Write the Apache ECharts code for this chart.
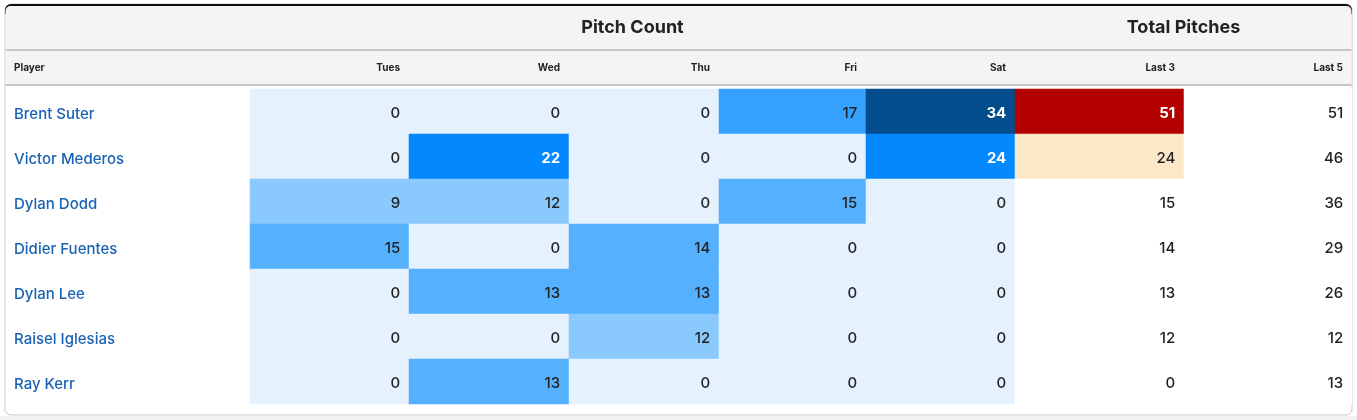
<!DOCTYPE html>
<html>
<head>
<meta charset="utf-8">
<script src="https://cdn.jsdelivr.net/npm/echarts@6/dist/echarts.min.js"></script>
<style>
  html, body { margin: 0; padding: 0; background: #fff; }
  #container { width: 1357px; height: 420px; }
</style>
</head>
<body>
<div id="container"></div>
<script>
var players = ['Brent Suter', 'Victor Mederos', 'Dylan Dodd', 'Didier Fuentes', 'Dylan Lee', 'Raisel Iglesias', 'Ray Kerr'];
var days = ['Tues', 'Wed', 'Thu', 'Fri', 'Sat'];
var totals = ['Last 3', 'Last 5'];

// pitches per player, one row per player, Tues..Sat
var pitchCounts = [
  [0, 0, 0, 17, 34],
  [0, 22, 0, 0, 24],
  [9, 12, 0, 15, 0],
  [15, 0, 14, 0, 0],
  [0, 13, 13, 0, 0],
  [0, 0, 12, 0, 0],
  [0, 13, 0, 0, 0]
];
var last3 = [51, 24, 15, 14, 13, 12, 0];
var last5 = [51, 46, 36, 29, 26, 12, 13];

// layout: column edges in px
var colEdges = [250, 409, 569, 719, 866, 1015, 1184, 1352];
var rowTop = 89, rowH = 45;
var font = 'Inter, "Noto Sans", sans-serif';

var dom = document.getElementById('container');
var myChart = echarts.init(dom);

var columnNames = days.concat(totals);
var grids = [], xAxes = [], yAxes = [], series = [];

columnNames.forEach(function (name, c) {
  grids.push({
    left: colEdges[c],
    width: colEdges[c + 1] - colEdges[c],
    top: rowTop,
    height: rowH * players.length
  });
  xAxes.push({
    type: 'category', gridIndex: c, data: [name], show: false
  });
  yAxes.push({
    type: 'category', gridIndex: c, data: players, inverse: true,
    axisLine: { show: false }, axisTick: { show: false }, splitLine: { show: false },
    axisLabel: c === 0 ? {
      show: true, align: 'left', margin: colEdges[0] - 14,
      formatter: function (v) { return '{n|' + v + '}'; },
      rich: {
        n: {
          color: '#1a62b5', fontSize: 15, fontWeight: 500, fontFamily: font,
          padding: [5, 0, 0, 0]
        }
      }
    } : { show: false }
  });

  var vals;
  if (c < days.length) {
    vals = pitchCounts.map(function (r) { return r[c]; });
  } else if (name === 'Last 3') {
    vals = last3;
  } else {
    vals = last5;
  }
  var dark = c < days.length ? 21 : (name === 'Last 3' ? 41 : 9999);
  var s = {
    type: 'heatmap',
    xAxisIndex: c,
    yAxisIndex: c,
    data: vals.map(function (v, i) {
      return {
        value: [0, i, v],
        label: v >= dark ? { color: '#fff', fontWeight: 'bold' } : {}
      };
    }),
    label: {
      show: true,
      position: 'insideRight',
      distance: 9,
      offset: [0, 2],
      color: '#222',
      fontSize: 15,
      fontWeight: 500,
      fontFamily: font,
      formatter: function (p) { return p.value[2]; }
    },
    emphasis: { disabled: true }
  };
  if (name === 'Last 5') s.itemStyle = { color: '#ffffff' };
  series.push(s);
});

// panel, header bands and header texts
var graphics = [
  { type: 'rect', shape: { x: 5, y: 4, width: 1347, height: 411, r: 6 },
    style: { fill: '#fff', stroke: '#c9c9c9', lineWidth: 1 }, z: -10 },
  { type: 'rect', shape: { x: 5, y: 4, width: 1347, height: 10, r: [6, 6, 0, 0] },
    style: { fill: '#111' }, z: -9 },
  { type: 'rect', shape: { x: 5.5, y: 6, width: 1346, height: 79, r: [5, 5, 0, 0] },
    style: { fill: '#f4f4f4' }, z: -8 },
  { type: 'rect', shape: { x: 5.5, y: 49, width: 1346, height: 2 }, style: { fill: '#c6c6c6' }, z: -7 },
  { type: 'rect', shape: { x: 5.5, y: 84, width: 1346, height: 2 }, style: { fill: '#c6c6c6' }, z: -7 },
  { type: 'rect', shape: { x: 0, y: 416, width: 1357, height: 4 }, style: { fill: '#f2f2f2' }, z: -11 },
  { type: 'text', x: (colEdges[0] + colEdges[5]) / 2, y: 28,
    style: { text: 'Pitch Count', font: 'bold 18px ' + font, fill: '#222', align: 'center', verticalAlign: 'middle' } },
  { type: 'text', x: (colEdges[5] + colEdges[7]) / 2, y: 28,
    style: { text: 'Total Pitches', font: 'bold 18px ' + font, fill: '#222', align: 'center', verticalAlign: 'middle' } },
  { type: 'text', x: 14, y: 68,
    style: { text: 'Player', font: 'bold 10px ' + font, fill: '#222', align: 'left', verticalAlign: 'middle' } }
];
columnNames.forEach(function (name, c) {
  graphics.push({
    type: 'text', x: colEdges[c + 1] - 9, y: 68,
    style: { text: name, font: 'bold 10px ' + font, fill: '#222', align: 'right', verticalAlign: 'middle' }
  });
});

var option = {
  animation: false,
  backgroundColor: '#fff',
  grid: grids,
  xAxis: xAxes,
  yAxis: yAxes,
  visualMap: [{
    type: 'piecewise', show: false,
    seriesIndex: [0, 1, 2, 3, 4], dimension: 2,
    pieces: [
      { value: 0, color: '#e5f1fd' },
      { min: 1, max: 12, color: '#8ac9fe' },
      { min: 13, max: 16, color: '#55b0fe' },
      { min: 17, max: 20, color: '#34a1ff' },
      { min: 21, max: 30, color: '#0388fd' },
      { min: 31, color: '#034d8c' }
    ]
  }, {
    type: 'piecewise', show: false,
    seriesIndex: 5, dimension: 2,
    pieces: [
      { max: 20, color: '#ffffff' },
      { min: 21, max: 40, color: '#fde7c9' },
      { min: 41, color: '#b30000' }
    ]
  }],
  graphic: graphics,
  series: series
};

myChart.setOption(option);
</script>
</body>
</html>
